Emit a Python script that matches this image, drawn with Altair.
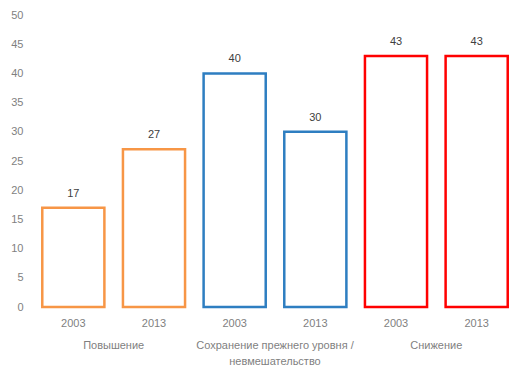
import altair as alt
import pandas as pd

groups = ["Повышение", "Повышение", "Сохранение прежнего уровня /\nневмешательство",
          "Сохранение прежнего уровня /\nневмешательство", "Снижение", "Снижение"]
years = ["2003", "2013", "2003", "2013", "2003", "2013"]
values = [17, 27, 40, 30, 43, 43]
colors = ["#F79646", "#F79646", "#2E7EC1", "#2E7EC1", "#FF0000", "#FF0000"]
y_ticks = [0, 5, 10, 15, 20, 25, 30, 35, 40, 45, 50]

keys = [f"{i}|{y}" for i, y in enumerate(years)]
df = pd.DataFrame({"key": keys, "year": years, "group": groups, "value": values, "color": colors})
gdf = df.iloc[[0, 2, 4]].copy()

W, H = 484, 292
step = W / 6
FONT = "Liberation Sans"

x = alt.X("key:N", sort=keys, title=None,
          scale=alt.Scale(paddingInner=0.23, paddingOuter=0.115),
          axis=alt.Axis(labelExpr="split(datum.value, '|')[1]", labelAngle=0,
                        domain=False, ticks=False, labelPadding=10,
                        labelColor="#7F7F7F", labelFont=FONT, labelFontSize=11))
y = alt.Y("value:Q", title=None, scale=alt.Scale(domain=[0, 50]),
          axis=alt.Axis(values=y_ticks, tickCount=11, domain=False, ticks=False,
                        grid=False, labelPadding=10, labelColor="#7F7F7F",
                        labelOverlap=False, labelFont=FONT, labelFontSize=11))

base = alt.Chart(df).encode(x=x, y=y)

bars = base.mark_bar(fill="white", strokeWidth=2.5).encode(
    stroke=alt.Stroke("color:N", scale=None))

labels = base.mark_text(dy=-9, color="#404040", font=FONT, fontSize=11,
                        baseline="bottom").encode(text="value:Q")

glabels = alt.Chart(gdf).mark_text(dx=step / 2, color="#7F7F7F", font=FONT, fontSize=11,
                                   baseline="middle", lineBreak="\n", lineHeight=16).encode(
    x=x, y=alt.value(H + 39), text="group:N")

chart = alt.layer(bars, labels, glabels).properties(
    width=W, height=H, autosize=alt.AutoSizeParams(type="none"),
    padding={"left": 25, "top": 7, "right": 7, "bottom": 61}
).configure_view(stroke=None)

chart.save("out.html", embed_options={"renderer": "svg", "actions": False})
